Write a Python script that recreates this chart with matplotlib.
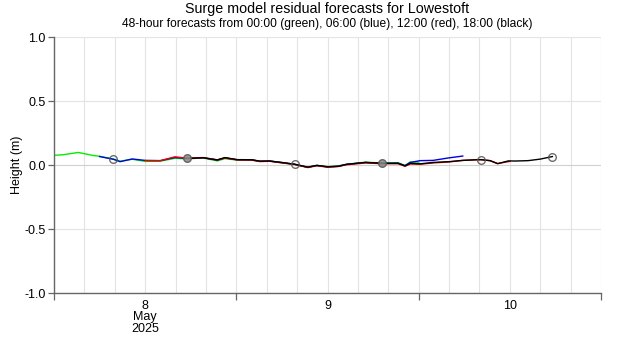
import matplotlib
matplotlib.use("Agg")
import matplotlib.pyplot as plt
import matplotlib.dates as mdates
import numpy as np
import datetime as dt

plt.rcParams['font.family'] = ['Liberation Sans', 'DejaVu Sans']

START = dt.datetime(2025, 5, 8, 0, 0)

# hours since 2025-05-08 00:00 and surge residual (m)
green_h = [0, 1.2, 3.2, 5.1, 6, 7.8, 8.7, 10.3, 12, 14, 15.9, 17.5, 19.6, 21.5, 22.5, 24.1,
           26, 27.1, 28.4, 30.1, 31.7, 33.4, 34.6, 36, 37.4, 38.5, 41, 43.2, 45.3, 46.2, 46.9, 48]
green_v = [0.076, 0.080, 0.098, 0.075, 0.068, 0.047, 0.030, 0.045, 0.028, 0.030, 0.052, 0.048, 0.055, 0.032, 0.050, 0.038,
           0.040, 0.028, 0.030, 0.016, 0.004, -0.016, -0.004, -0.013, -0.008, 0.006, 0.022, 0.016, 0.018, -0.004, 0.024, 0.022]

blue_h = [6, 7.8, 8.7, 10.3, 12, 14, 15.9, 17.5, 19.6, 21.5, 22.5, 24.1, 26, 27.1, 28.4, 30.1,
          31.7, 33.4, 34.6, 36, 37.4, 38.5, 41, 43.2, 45.3, 46.2, 46.9, 48.2, 49.9, 51.9, 53.8]
blue_v = [0.066, 0.045, 0.026, 0.047, 0.036, 0.034, 0.058, 0.052, 0.057, 0.038, 0.056, 0.041, 0.041, 0.029, 0.031, 0.018,
          0.005, -0.018, -0.003, -0.015, -0.010, 0.005, 0.020, 0.013, 0.014, -0.005, 0.020, 0.034, 0.036, 0.055, 0.070]

red_h = [12, 14, 15.9, 17.5, 19.6, 21.5, 22.5, 24.1, 26, 27.1, 28.4, 30.1, 31.7, 33.4, 34.6, 36,
         37.4, 38.5, 41, 43.2, 45.3, 46.2, 46.9, 48.2, 49.9, 52, 53.8, 55.6, 56.2, 57.4, 58.4, 60]
red_v = [0.034, 0.034, 0.064, 0.054, 0.058, 0.040, 0.054, 0.040, 0.038, 0.027, 0.029, 0.016, 0.004, -0.020, -0.006, -0.017,
         -0.012, 0.002, 0.016, 0.010, 0.010, -0.010, 0.008, 0.006, 0.016, 0.024, 0.036, 0.041, 0.041, 0.034, 0.012, 0.028]

black_h = [18, 19.6, 21.5, 22.5, 24.1, 26, 27.1, 28.4, 30.1, 31.7, 33.4, 34.6, 36, 37.4, 38.5, 41,
           43.2, 45.3, 46.2, 46.9, 48.2, 49.9, 52, 53.8, 55.6, 56.2, 57.4, 58.4, 59.8, 60.7, 62.4, 64, 65.6]
black_v = [0.052, 0.057, 0.040, 0.058, 0.042, 0.041, 0.030, 0.031, 0.019, 0.006, -0.017, -0.003, -0.014, -0.010, 0.005, 0.020,
           0.013, 0.013, -0.007, 0.013, 0.009, 0.020, 0.026, 0.036, 0.041, 0.042, 0.034, 0.010, 0.032, 0.031, 0.034, 0.046, 0.066]

# circle markers (hours, value)
circle_h = [7.8, 17.5, 31.7, 43.2, 56.2, 65.6]
circle_v = [0.045, 0.052, 0.005, 0.013, 0.042, 0.066]
circle_filled = [False, True, False, True, False, False]

title = "Surge model residual forecasts for Lowestoft"
subtitle = "48-hour forecasts from 00:00 (green), 06:00 (blue), 12:00 (red), 18:00 (black)"
day_labels = ["8\nMay\n2025", "9", "10"]


def to_t(hours):
    return [START + dt.timedelta(hours=h) for h in hours]


fig = plt.figure(figsize=(6.2, 3.5), dpi=100)
ax = fig.add_axes([54 / 620, 1 - 293 / 350, (601 - 54) / 620, (293 - 37) / 350])

grid_c = '#e3e3e3'
# grid
for k in range(0, 73, 4):
    ax.axvline(START + dt.timedelta(hours=k), color=grid_c, lw=0.8, zorder=0)
for yv in [-1.0, -0.5, 0.0, 0.5, 1.0]:
    ax.axhline(yv, color=grid_c if yv != 0 else '#d0d0d0', lw=0.8, zorder=0)

ax.plot(to_t(green_h), green_v, color='#00ee00', lw=1.0, zorder=2)
ax.plot(to_t(blue_h), blue_v, color='#0000dd', lw=1.0, zorder=3)
ax.plot(to_t(red_h), red_v, color='#ee0000', lw=1.0, zorder=4)
ax.plot(to_t(black_h), black_v, color='black', lw=1.0, zorder=5)

for h, v, f in zip(circle_h, circle_v, circle_filled):
    ax.plot(to_t([h]), [v], 'o', ms=5.5, mfc=('#888888' if f else 'none'),
            mec='#555555', mew=1.0, alpha=0.85, zorder=6)

ax.set_xlim(START, START + dt.timedelta(hours=72))
ax.set_ylim(-1.0, 1.0)

ax.set_yticks([-1.0, -0.5, 0.0, 0.5, 1.0])
ax.set_yticklabels(["-1.0", "-0.5", "0.0", "0.5", "1.0"])
ax.set_ylabel("Height (m)", fontsize=9, labelpad=1)

major = [START + dt.timedelta(days=d) for d in range(4)]
ax.set_xticks(major)
ax.set_xticklabels([])
ax.set_xticks([START + dt.timedelta(hours=12 + 24 * d) for d in range(3)], minor=True)
ax.set_xticklabels(day_labels, minor=True, linespacing=0.95)
ax.tick_params(axis='x', which='minor', length=0, pad=5, labelsize=9)
ax.tick_params(axis='x', which='major', length=5, color='#666666', width=0.9)
ax.tick_params(axis='y', length=4, color='#666666', width=0.9, labelsize=9, pad=2)

for s in ['top', 'right']:
    ax.spines[s].set_visible(False)
for s in ['left', 'bottom']:
    ax.spines[s].set_color('#666666')
    ax.spines[s].set_linewidth(1.0)

fig.text(327 / 620, 1 - 9.5 / 350, title, ha='center', va='center', fontsize=10.3)
fig.text(327 / 620, 1 - 24 / 350, subtitle, ha='center', va='center', fontsize=8.65)

fig.savefig("out.png", dpi=100)
